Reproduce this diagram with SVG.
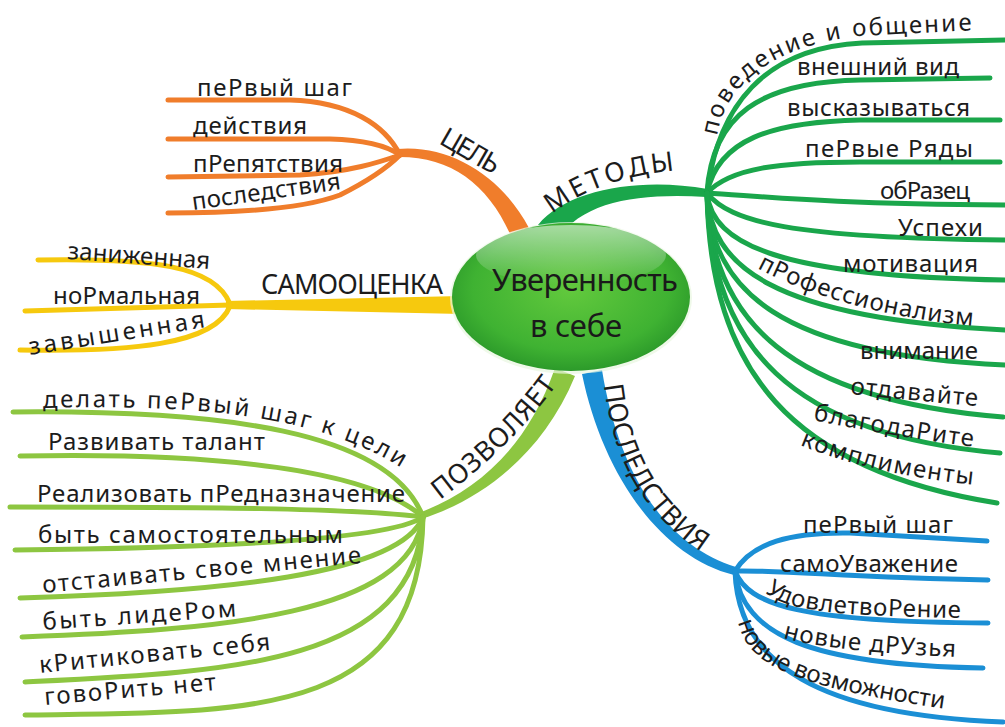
<svg xmlns="http://www.w3.org/2000/svg" width="1005" height="727" viewBox="0 0 1005 727">
<defs>
<style>
.t{font-family:"Noto Sans","DejaVu Sans",sans-serif;font-size:24px;fill:#1c1c1c}
.h{font-family:"Noto Sans","DejaVu Sans",sans-serif;font-size:27px;fill:#1c1c1c}
.c{font-family:"Noto Sans","DejaVu Sans",sans-serif;font-size:31px;fill:#1a1a1a}
.or{fill:none;stroke:#f07d2b;stroke-width:5;stroke-linecap:round}
.ye{fill:none;stroke:#f6c90e;stroke-width:5;stroke-linecap:round}
.li{fill:none;stroke:#8dc641;stroke-width:5;stroke-linecap:round}
.gr{fill:none;stroke:#1aa64b;stroke-width:5;stroke-linecap:round}
.bl{fill:none;stroke:#1b8fd5;stroke-width:5;stroke-linecap:round}
</style>
<radialGradient id="eg" cx="50%" cy="45%" r="55%">
<stop offset="0" stop-color="#62c93d"/>
<stop offset="0.75" stop-color="#3fb232"/>
<stop offset="1" stop-color="#2c9a2a"/>
</radialGradient>
<linearGradient id="hl" x1="0" y1="0" x2="0" y2="1">
<stop offset="0" stop-color="#ffffff" stop-opacity="0.55"/>
<stop offset="1" stop-color="#ffffff" stop-opacity="0"/>
</linearGradient>
<path id="tp_pov" d="M717,136 C724,92 762,48 858,36 L978,30"/>
<path id="tp_prof" d="M757,268 C800,292 880,318 976,326"/>
<path id="tp_otd" d="M850,394 C890,398 940,403 977,406"/>
<path id="tp_blag" d="M813,420 C860,430 920,440 975,447"/>
<path id="tp_komp" d="M800,445 C840,462 900,477 975,485"/>
<path id="tp_udov" d="M765,592 C785,610 830,616 962,618"/>
<path id="tp_dr" d="M783,638 C820,648 880,654 957,657"/>
<path id="tp_voz" d="M738,622 C748,665 790,688 968,712"/>
<path id="tp_posl" d="M604,385 C612,455 640,515 708,556"/>
<path id="tp_pozv" d="M440,500 C480,470 525,430 560,380"/>
<path id="tp_met" d="M552,214 C580,192 620,175 680,170"/>
<path id="tp_del" d="M43,408 C200,404 320,415 405,470"/>
</defs>
<rect width="1005" height="727" fill="#ffffff"/>

<g id="connectors">
<path fill="#f07d2b" d="M397,157 C450,156 488,183.5 511,236 L529,228 C502,176.5 450,144 397,149 Z"/>
<path class="or" d="M168,100 L290,100 C350,102 385,125 400,155"/>
<path class="or" d="M168,139 L330,139 C370,140 390,148 400,155"/>
<path class="or" d="M168,177 L300,175 C350,172 380,162 400,155"/>
<path class="or" d="M168,213 C230,213 300,210 340,195 C370,180 390,165 400,155"/>
<path fill="#f6c90e" d="M226,301 L462,296 L462,314 L226,309 Z"/>
<path class="ye" d="M38,260 C150,258 215,265 230,304"/>
<path class="ye" d="M25,311 L230,305"/>
<path class="ye" d="M20,350 C130,352 215,345 230,306"/>
<path fill="#8dc641" d="M421,519 C481.6,500 543,454 575,376 L555,368 C527.5,447 478.4,490 419,513 Z"/>
<path class="li" d="M13,412 C220,410 390,430 423,517"/>
<path class="li" d="M20,456 C220,452 370,470 423,517"/>
<path class="li" d="M10,507 C200,507 350,508 423,517"/>
<path class="li" d="M15,550 C220,548 390,540 423,517"/>
<path class="li" d="M20,598 C220,592 400,575 423,517"/>
<path class="li" d="M22,637 C220,630 410,615 423,517"/>
<path class="li" d="M25,682 C230,672 415,665 423,517"/>
<path class="li" d="M25,715 C250,712 420,720 423,517"/>
<path fill="#1aa64b" d="M707.5,189 C641,177 567,189 538,225 L558,239 C583,201 639,193 706.5,197 Z"/>
<path class="gr" d="M707,193 C718,105 765,48 862,43 L1005,40"/>
<path class="gr" d="M707,193 C712,115 760,82 860,80 L990,78"/>
<path class="gr" d="M707,193 C718,140 770,122 860,120 L1000,120"/>
<path class="gr" d="M707,193 C730,168 780,162 860,162 L1000,162"/>
<path class="gr" d="M707,193 C760,196 820,204 1005,205"/>
<path class="gr" d="M707,193 C730,222 790,238 1005,240"/>
<path class="gr" d="M707,193 C712,245 780,276 1005,280"/>
<path class="gr" d="M707,193 C710,265 770,318 1005,330"/>
<path class="gr" d="M707,193 C710,290 780,355 1005,365"/>
<path class="gr" d="M707,193 C710,320 790,400 1003,417"/>
<path class="gr" d="M707,193 C710,345 790,435 1000,453"/>
<path class="gr" d="M707,193 C710,370 790,470 997,503"/>
<path fill="#1b8fd5" d="M736,567 C661.6,544 618,468.6 602,370 L582,374 C602,471.4 658.4,556 734,575 Z"/>
<path class="bl" d="M735,571 C752,543 790,532 850,533 L987,541"/>
<path class="bl" d="M735,571 C790,570 850,578 988,580"/>
<path class="bl" d="M735,571 C748,605 800,622 988,623"/>
<path class="bl" d="M735,571 C742,635 810,665 983,668"/>
<path class="bl" d="M735,571 C738,665 820,715 1003,722"/>
</g>

<g id="center">
<ellipse cx="571" cy="298" rx="121" ry="76" fill="#e8f6e0" opacity="0.7"/>
<ellipse cx="571" cy="297" rx="119" ry="74" fill="url(#eg)"/>
<ellipse cx="571" cy="255" rx="95" ry="30" fill="url(#hl)"/>
<text class="c" x="492" y="291" textLength="186">Уверенность</text>
<text class="c" x="530" y="337" textLength="92">в себе</text>
</g>

<g id="tsel">
<text class="h" x="438" y="143" textLength="64" transform="rotate(30 438 143)">ЦЕЛЬ</text>
<text class="t" x="197" y="96" textLength="155">пеРвый шаг</text>
<text class="t" x="193" y="134" textLength="114">действия</text>
<text class="t" x="193" y="172" textLength="150">пРепятствия</text>
<text class="t" x="193" y="210" textLength="150" transform="rotate(-8 193 210)">последствия</text>
</g>

<g id="samoocenka">
<text class="h" x="261" y="294" textLength="182">САМООЦЕНКА</text>
<text class="t" x="67" y="259" textLength="143" transform="rotate(4 67 259)">заниженная</text>
<text class="t" x="53" y="304" textLength="147">ноРмальная</text>
<text class="t" x="30" y="355" textLength="178" transform="rotate(-9 30 355)">завышенная</text>
</g>

<g id="pozvolyaet">
<text class="h"><textPath href="#tp_pozv" textLength="165">ПОЗВОЛЯЕТ</textPath></text>
<text class="t"><textPath href="#tp_del" textLength="368">делать пеРвый шаг к цели</textPath></text>
<text class="t" x="48" y="450" textLength="217">Развивать талант</text>
<text class="t" x="37" y="502" textLength="368">Реализовать пРедназначение</text>
<text class="t" x="38" y="543" textLength="305">быть самостоятельным</text>
<text class="t" x="43" y="593" textLength="320" transform="rotate(-5.4 43 593)">отстаивать свое мнение</text>
<text class="t" x="43" y="630" textLength="194" transform="rotate(-4 43 630)">быть лидеРом</text>
<text class="t" x="40" y="673" textLength="232" transform="rotate(-5.7 40 673)">кРитиковать себя</text>
<text class="t" x="45" y="705" textLength="172" transform="rotate(-5 45 705)">говоРить нет</text>
</g>

<g id="metody">
<text class="h"><textPath href="#tp_met" textLength="132">МЕТОДЫ</textPath></text>
<text class="t"><textPath href="#tp_pov" textLength="300">поведение и общение</textPath></text>
<text class="t" x="797" y="75" textLength="162">внешний вид</text>
<text class="t" x="787" y="116" textLength="183">высказываться</text>
<text class="t" x="805" y="157" textLength="168">пеРвые Ряды</text>
<text class="t" x="880" y="199" textLength="90">обРазец</text>
<text class="t" x="898" y="236" textLength="85">Успехи</text>
<text class="t" x="843" y="272" textLength="135">мотивация</text>
<text class="t"><textPath href="#tp_prof" textLength="225">пРофессионализм</textPath></text>
<text class="t" x="860" y="359" textLength="118">внимание</text>
<text class="t"><textPath href="#tp_otd" textLength="128">отдавайте</textPath></text>
<text class="t"><textPath href="#tp_blag" textLength="162">благодаРите</textPath></text>
<text class="t"><textPath href="#tp_komp" textLength="178">комплименты</textPath></text>
</g>

<g id="posledstviya">
<text class="h"><textPath href="#tp_posl" textLength="200">ПОСЛЕДСТВИЯ</textPath></text>
<text class="t" x="803" y="533" textLength="150">пеРвый шаг</text>
<text class="t" x="780" y="572" textLength="178">самоУважение</text>
<text class="t"><textPath href="#tp_udov" textLength="200">УдовлетвоРение</textPath></text>
<text class="t"><textPath href="#tp_dr" textLength="174">новые дРУзья</textPath></text>
<text class="t"><textPath href="#tp_voz" textLength="235">новые возможности</textPath></text>
</g>
</svg>
